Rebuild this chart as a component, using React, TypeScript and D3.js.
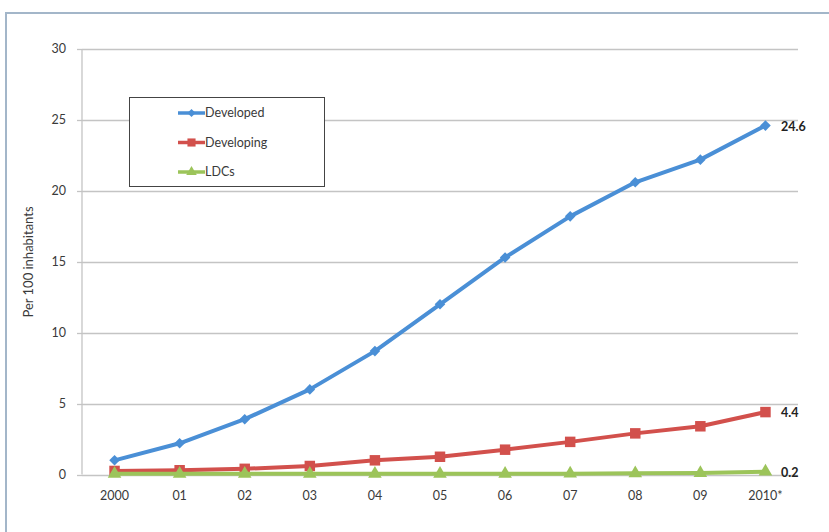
import React from "react";
import * as d3 from "d3";

const categories = ["2000", "01", "02", "03", "04", "05", "06", "07", "08", "09", "2010*"];
const developed = [1.0, 2.2, 3.9, 6.0, 8.7, 12.0, 15.3, 18.2, 20.6, 22.2, 24.6];
const developing = [0.25, 0.3, 0.4, 0.6, 1.0, 1.25, 1.75, 2.3, 2.9, 3.4, 4.4];
const ldcs = [0.05, 0.05, 0.05, 0.05, 0.05, 0.05, 0.05, 0.06, 0.08, 0.1, 0.2];
const yTicks = [0, 5, 10, 15, 20, 25, 30];
const endLabels = ["24.6", "4.4", "0.2"];

const seriesNames = ["Developed", "Developing", "LDCs"];
const seriesValues = [developed, developing, ldcs];
const colors = ["#4a8fd6", "#d2504c", "#9cc45a"];
const shapes = [d3.symbolSquare, d3.symbolSquare, d3.symbolTriangle];
const rotations = [45, 0, 0];
const sizes = [56, 110, 80];

const W = 829;
const H = 532;
const FONT = "Lato, 'Open Sans', sans-serif";
const TXT = "#3a3a3a";

export default function App() {
  const x = d3.scaleBand<string>().domain(categories).range([82, 798]);
  const cx = (c: string) => (x(c) as number) + x.bandwidth() / 2;
  const y = d3.scaleLinear().domain([0, 30]).range([474.5, 49]);
  const line = d3
    .line<number>()
    .x((_, i) => cx(categories[i]))
    .y((d) => y(d));

  return (
    <svg
      width={W}
      height={H}
      style={{ position: "absolute", left: 0, top: 0, background: "#fff" }}
      fontFamily={FONT}
    >
      <rect x={6} y={13} width={900} height={600} fill="#fff" stroke="#a3b6c9" strokeWidth={2} />
      {/* gridlines */}
      {yTicks.map((t) => (
        <g key={t}>
          <line x1={82} x2={798} y1={Math.round(y(t)) + 0.5} y2={Math.round(y(t)) + 0.5} stroke="#c4c4c4" strokeWidth={1.3} />
          <line x1={77} x2={82} y1={Math.round(y(t)) + 0.5} y2={Math.round(y(t)) + 0.5} stroke="#c4c4c4" strokeWidth={1.3} />
          <text x={66} y={y(t)} dy="0.35em" textAnchor="end" fontSize={12.5} fill={TXT}>
            {t}
          </text>
        </g>
      ))}
      <line x1={82} x2={82} y1={y(30)} y2={y(0)} stroke="#c4c4c4" strokeWidth={1.3} />
      {/* x labels */}
      {categories.map((c) => (
        <text key={c} x={cx(c)} y={496} dy="0.35em" textAnchor="middle" fontSize={12.5} fill={TXT}>
          {c}
        </text>
      ))}
      <text
        transform={`translate(33,${262}) rotate(-90)`}
        textAnchor="middle"
        fontSize={13}
        fill={TXT}
      >
        Per 100 inhabitants
      </text>
      {/* series */}
      {seriesValues.map((vals, si) => (
        <g key={si}>
          <path d={line(vals) || ""} fill="none" stroke={colors[si]} strokeWidth={4} strokeLinejoin="round" />
          {vals.map((v, i) => (
            <path
              key={i}
              transform={`translate(${cx(categories[i])},${y(v)}) rotate(${rotations[si]})`}
              d={d3.symbol().type(shapes[si]).size(sizes[si])() || ""}
              fill={colors[si]}
            />
          ))}
          <text
            x={781}
            y={y(vals[vals.length - 1]) + 1}
            dy="0.35em"
            fontSize={12.5}
            fontWeight="bold"
            fill="#222"
          >
            {endLabels[si]}
          </text>
        </g>
      ))}
      {/* legend */}
      <rect x={129.5} y={97.5} width={195} height={89} fill="#fff" stroke="#444" strokeWidth={1} />
      {seriesNames.map((n, i) => {
        const ly = 113 + i * 29.5;
        return (
          <g key={n}>
            <line x1={178} x2={205} y1={ly} y2={ly} stroke={colors[i]} strokeWidth={3.5} />
            <path
              transform={`translate(191.5,${ly}) rotate(${rotations[i]})`}
              d={d3.symbol().type(shapes[i]).size(sizes[i] * 0.6)() || ""}
              fill={colors[i]}
            />
            <text x={205} y={ly} dy="0.35em" fontSize={12.5} fill={TXT}>
              {n}
            </text>
          </g>
        );
      })}
    </svg>
  );
}
